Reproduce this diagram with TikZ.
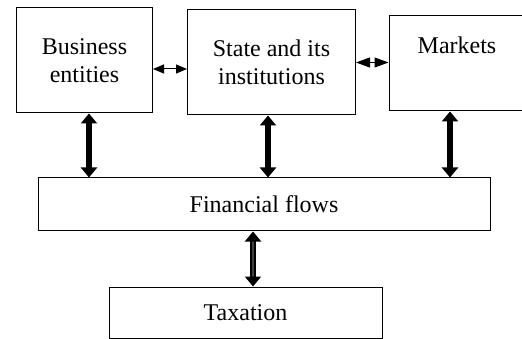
\documentclass[tikz,border=0pt]{standalone}
\usepackage{fontspec}
\setmainfont{LiberationSerif}[Extension=.ttf, UprightFont=*-Regular, BoldFont=*-Bold]
\usepackage{tikz}
\usetikzlibrary{arrows.meta}

\begin{document}
\begin{tikzpicture}[x=1pt, y=-1pt,
  box/.style={draw, line width=1pt, inner sep=0pt, align=center,
    font=\rmfamily\fontsize{24}{28}\selectfont},
  flow/.style={line width=6.5pt, {Triangle[width=16pt,length=10pt]}-{Triangle[width=16pt,length=10pt]}},
  link/.style={line width=1pt, {Triangle[width=9pt,length=11pt]}-{Triangle[width=9pt,length=11pt]}}]
\clip (0,0) rectangle (522,339);

% Define the boxes of the scheme
\node[box, minimum width=136pt, minimum height=105pt] (bus) at (84.5,60.5) {Business\\entities};
\node[box, minimum width=168pt, minimum height=105pt] (state) at (271.5,62.5) {State and its\\institutions};
\node[box, minimum width=136pt, minimum height=95pt] (mkt) at (457,63.5) {Markets\\\strut};
\node[box, minimum width=452pt, minimum height=53pt] (fin) at (264,204.5) {Financial flows};
\node[box, minimum width=273pt, minimum height=51pt] (tax) at (245.5,312.5) {Taxation};

% Draw the links between the top boxes
\coordinate (bs) at ([yshift=-8.5pt]bus.east);
\draw[link] (bs) -- (bs -| state.west);
\draw[link, {Triangle[width=10pt,length=14pt]}-{Triangle[width=10pt,length=14pt]}] (state.east) -- (state.east -| mkt.west);

% Draw the flows down to the financial flows
\coordinate (b1) at ([xshift=4.5pt]bus.south);
\coordinate (s1) at ([xshift=-3.5pt]state.south);
\coordinate (m1) at ([xshift=-7pt]mkt.south);
\draw[flow] (b1) -- (b1 |- fin.north);
\draw[flow] (s1) -- (s1 |- fin.north);
\draw[flow] (m1) -- (m1 |- fin.north);

% Draw the flow between financial flows and taxation
\coordinate (t1) at ([xshift=7.5pt]tax.north);
\draw[flow, line width=2.2pt, double=darkgray, double distance=1.8pt] (t1) -- (t1 |- fin.south);
\end{tikzpicture}
\end{document}
